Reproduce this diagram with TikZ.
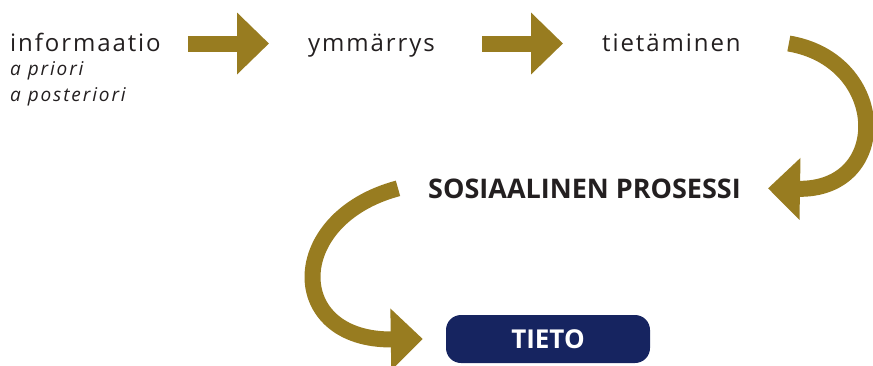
\documentclass[tikz,border=0pt]{standalone}
\usepackage{fontspec}
\setmainfont{Open Sans}
\usetikzlibrary{arrows.meta}
\usetikzlibrary{positioning}
\definecolor{ochre}{RGB}{152,124,32}
\definecolor{tietonavy}{RGB}{22,36,96}
\definecolor{ink}{RGB}{35,31,32}

\begin{document}
\begin{tikzpicture}[x=1pt, y=-1pt, text=ink,
    fat/.style={draw=ochre, line width=16pt, -{Triangle[length=32pt,width=60pt]}},
    word/.style={inner sep=0pt, text height=20pt, text depth=5pt,
    font=\fontsize{24}{28}\selectfont\addfontfeature{LetterSpace=8}},
    note/.style={inner sep=0pt, font=\fontsize{19}{23}\selectfont\itshape\addfontfeature{LetterSpace=10}},
    result/.style={rounded corners=15pt, fill=tietonavy, text=white,
    minimum width=204pt, minimum height=48pt, font=\fontsize{26}{30}\selectfont\bfseries}]

    \useasboundingbox (0,0) rectangle (873,365);

    \node[word, anchor=base west] (info) at (10,51) {informaatio};
    \node[note, anchor=base west] (prior) at (10,75) {a priori};
    \node[note, anchor=base west] (posterior) at (10,101) {a posteriori};
    \node[word, anchor=base west] (ymm) at (308,51) {ymmärrys};
    \node[word, anchor=base west] (tiet) at (602,51) {tietäminen};

    \node[inner sep=0pt, anchor=base west, font=\fontsize{27}{31}\selectfont\bfseries] (sos) at (428,198) {SOSIAALINEN PROSESSI};
    \node[result] (tieto) at (548,339) {TIETO};

    \draw[fat] ([xshift=27pt]info.east) -- ([xshift=-39pt]ymm.west);
    \draw[fat] ([xshift=47pt]ymm.east) -- ([xshift=-39pt]tiet.west);

    \draw[fat] ([xshift=48pt]tiet.east) .. controls +(100,17) and +(124,2) .. ([xshift=27pt]sos.east);
    \draw[fat] ([xshift=-30pt]sos.west) .. controls +(-113,30) and +(-138,2) .. ([xshift=-23pt]tieto.west);
\end{tikzpicture}
\end{document}
